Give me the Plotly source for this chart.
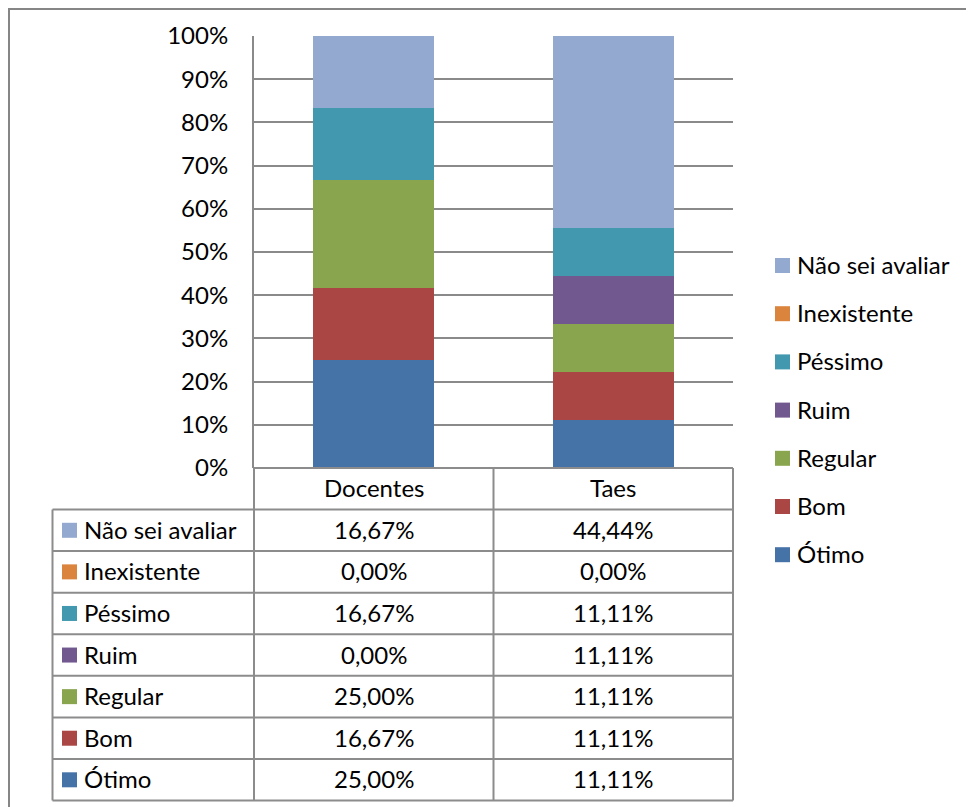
import plotly.graph_objects as go

categories = ["Docentes", "Taes"]
series_names = ["Ótimo", "Bom", "Regular", "Ruim", "Péssimo", "Inexistente", "Não sei avaliar"]
otimo = [25.00, 11.11]
bom = [16.67, 11.11]
regular = [25.00, 11.11]
ruim = [0.00, 11.11]
pessimo = [16.67, 11.11]
inexistente = [0.00, 0.00]
nao_sei = [16.67, 44.44]
series_values = [otimo, bom, regular, ruim, pessimo, inexistente, nao_sei]
colors = ["#4572A7", "#AA4643", "#89A54E", "#71588F", "#4198AF", "#DB843D", "#93A9CF"]
tick_vals = [0, 10, 20, 30, 40, 50, 60, 70, 80, 90, 100]
tick_text = ["0%", "10%", "20%", "30%", "40%", "50%", "60%", "70%", "80%", "90%", "100%"]

FONT = "Lato"
FS = 24
OFF = 8  # page body margin
W, H = 974 - OFF, 807 - OFF
L, R, T, B = 254 - OFF, 733 - OFF, 36 - OFF, 468 - OFF
LINE = "#8c8c8c"


def px(x):
    return (x - OFF - L) / (R - L)


def py(y):
    return (B - (y - OFF)) / (B - T)


fig = go.Figure()
for name, vals, col in zip(series_names, series_values, colors):
    fig.add_trace(go.Bar(x=categories, y=vals, name=name, marker=dict(color=col, line=dict(width=0)),
                         showlegend=False))

shapes = []
annotations = []

# outer border (left/top visible)
shapes.append(dict(type="rect", xref="paper", yref="paper", x0=px(9), x1=px(990), y0=py(9), y1=py(830),
                   line=dict(color="#868686", width=2), fillcolor="rgba(0,0,0,0)", layer="below"))

# table geometry
row_h = (800.6 - 509.5) / 7
header_top, header_bot = 468, 509.5
col_left = 52.5
col_mid = 493.5
rows_top = [header_bot + i * row_h for i in range(8)]
RL, RR = 254, 733

shapes.append(dict(type="line", xref="paper", yref="paper", x0=px(RL), x1=px(RR), y0=py(header_top), y1=py(header_top),
                   line=dict(color=LINE, width=2)))
for yy in rows_top:
    shapes.append(dict(type="line", xref="paper", yref="paper", x0=px(col_left), x1=px(RR), y0=py(yy), y1=py(yy),
                       line=dict(color=LINE, width=2)))
for xx in [RL, col_mid, RR]:
    shapes.append(dict(type="line", xref="paper", yref="paper", x0=px(xx), x1=px(xx), y0=py(header_top), y1=py(rows_top[-1]),
                       line=dict(color=LINE, width=2)))
shapes.append(dict(type="line", xref="paper", yref="paper", x0=px(col_left), x1=px(col_left), y0=py(header_bot), y1=py(rows_top[-1]),
                   line=dict(color=LINE, width=2)))

tf = dict(family=FONT, size=FS, color="#000")
for i, c in enumerate(categories):
    annotations.append(dict(x=i, y=py((header_top + header_bot) / 2 - 1), xref="x", yref="paper", text=c,
                            showarrow=False, font=tf, xanchor="center", yanchor="middle"))

order = list(range(len(series_names)))[::-1]
for r, si in enumerate(order):
    cy = rows_top[r] + row_h / 2
    shapes.append(dict(type="rect", xref="paper", yref="paper", x0=px(62), x1=px(77), y0=py(cy - 7.5), y1=py(cy + 7.5),
                       line=dict(width=0), fillcolor=colors[si]))
    annotations.append(dict(x=px(82), y=py(cy - 1), xref="paper", yref="paper", text=series_names[si], showarrow=False,
                            font=tf, xanchor="left", yanchor="middle"))
    for ci in range(len(categories)):
        txt = f"{series_values[si][ci]:.2f}".replace(".", ",") + "%"
        annotations.append(dict(x=ci, y=py(cy - 1), xref="x", yref="paper", text=txt, showarrow=False,
                                font=tf, xanchor="center", yanchor="middle"))

leg_y0 = 265.5
leg_step = 48.2
for r, si in enumerate(order):
    cy = leg_y0 + r * leg_step
    shapes.append(dict(type="rect", xref="paper", yref="paper", x0=px(775), x1=px(790), y0=py(cy - 7.5), y1=py(cy + 7.5),
                       line=dict(width=0), fillcolor=colors[si]))
    annotations.append(dict(x=px(795), y=py(cy - 1), xref="paper", yref="paper", text=series_names[si], showarrow=False,
                            font=tf, xanchor="left", yanchor="middle"))

fig.update_layout(
    width=W, height=H,
    margin=dict(l=L, r=W - R, t=T, b=H - B, pad=0),
    barmode="stack", barnorm="percent", bargap=0.495,
    plot_bgcolor="white", paper_bgcolor="white",
    font=tf,
    shapes=shapes, annotations=annotations,
    showlegend=False,
)
fig.update_xaxes(range=[-0.5, 1.5], showticklabels=False, showgrid=False, zeroline=False, showline=False, ticks="")
fig.update_yaxes(range=[0, 100], tickmode="array", tickvals=tick_vals, ticktext=tick_text, showgrid=True,
                 gridcolor="#8a8a8a", gridwidth=2, showline=True, linecolor="#8a8a8a", linewidth=2,
                 zeroline=False, ticks="", ticklabelstandoff=19, tickfont=tf)

fig.write_html("out.html")
